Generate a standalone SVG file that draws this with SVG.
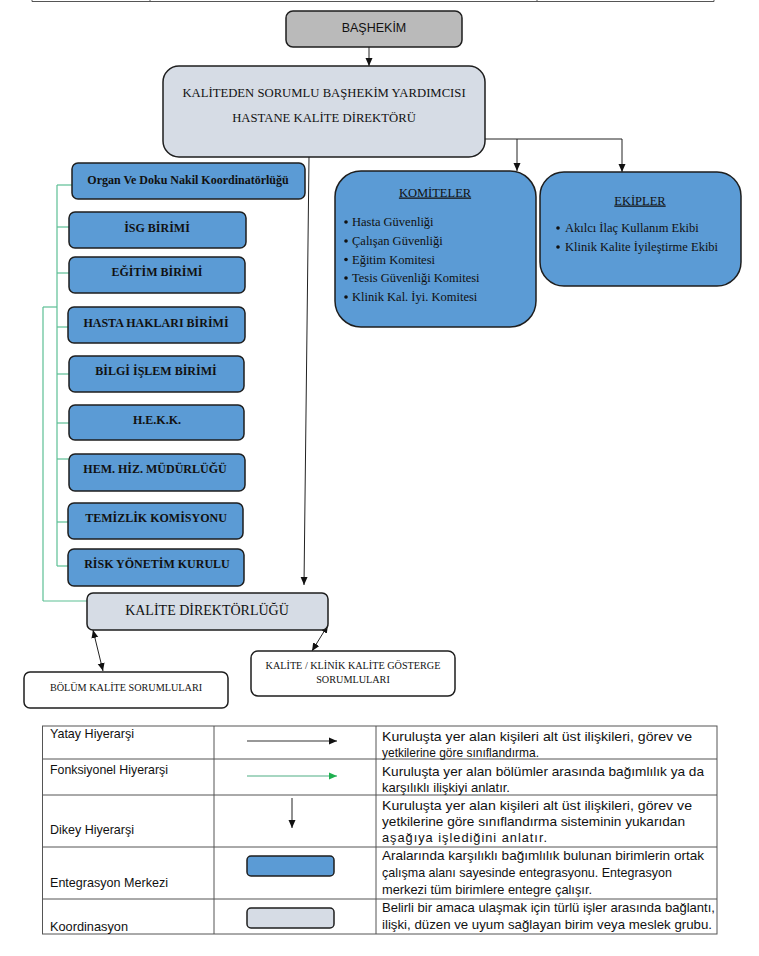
<svg xmlns="http://www.w3.org/2000/svg" width="759" height="956" viewBox="0 0 759 956">
<style>
.box{stroke:#1e1e1e;stroke-width:1.5}
.blue{fill:#5b9bd5}
.light{fill:#d6dce5}
.gray{fill:#bababa}
.white{fill:#ffffff}
.serif{font-family:"Liberation Serif","Times New Roman",serif;fill:#111}
.bold{font-weight:bold}
.c{text-anchor:middle}
.sans{font-family:"Liberation Sans",Arial,sans-serif;fill:#111}
.conn{stroke:#222;stroke-width:1;fill:none}
.green{stroke:#5cbf94;stroke-width:1.2;fill:none}
.grid{stroke:#555;stroke-width:1;fill:none}
.leg{font-family:"Liberation Sans",Arial,sans-serif;font-size:12.8px;fill:#111}
</style>
<defs>
<marker id="ah" markerUnits="userSpaceOnUse" markerWidth="8" markerHeight="8" refX="8" refY="3.5" orient="auto-start-reverse" viewBox="0 0 8 7">
<path d="M0,0 L8,3.5 L0,7 z" fill="#111"/>
</marker>
<marker id="ahg" markerUnits="userSpaceOnUse" markerWidth="8" markerHeight="8" refX="8" refY="3.5" orient="auto" viewBox="0 0 8 7">
<path d="M0,0 L8,3.5 L0,7 z" fill="#1fb04f"/>
</marker>
</defs>
<rect width="759" height="956" fill="#ffffff"/>

<g id="top-strip" class="grid">
<line x1="32" y1="1.5" x2="714" y2="1.5"/>
<line x1="32" y1="0" x2="32" y2="1.5"/>
<line x1="150" y1="0" x2="150" y2="1.5"/>
<line x1="537" y1="0" x2="537" y2="1.5"/>
<line x1="714" y1="0" x2="714" y2="1.5"/>
</g>

<g id="connectors">
<line class="conn" x1="369" y1="47" x2="369" y2="66" marker-end="url(#ah)"/>
<line class="conn" x1="485" y1="139" x2="622" y2="139"/>
<line class="conn" x1="517" y1="139" x2="517" y2="171" marker-end="url(#ah)"/>
<line class="conn" x1="622" y1="139" x2="622" y2="172" marker-end="url(#ah)"/>
<line class="conn" x1="309" y1="157" x2="304" y2="585" marker-end="url(#ah)"/>
<line class="conn" x1="93" y1="630" x2="103" y2="671" marker-start="url(#ah)" marker-end="url(#ah)"/>
<line class="conn" x1="328" y1="625" x2="312" y2="651" marker-start="url(#ah)" marker-end="url(#ah)"/>
<g class="green">
<line x1="57" y1="185" x2="57" y2="566"/>
<line x1="57" y1="185" x2="72" y2="185"/>
<line x1="57" y1="227" x2="69" y2="227"/>
<line x1="57" y1="273" x2="69" y2="273"/>
<line x1="57" y1="327" x2="68" y2="327"/>
<line x1="57" y1="374" x2="69" y2="374"/>
<line x1="57" y1="423" x2="69" y2="423"/>
<line x1="57" y1="459" x2="69" y2="459"/>
<line x1="57" y1="522" x2="68" y2="522"/>
<line x1="57" y1="566" x2="68" y2="566"/>
<line x1="43" y1="307" x2="57" y2="307"/>
<line x1="43" y1="307" x2="43" y2="601"/>
<line x1="43" y1="601" x2="87" y2="601"/>
</g>
</g>

<g id="node-bashekim">
<rect class="box gray" x="286" y="11" width="176" height="36" rx="7"/>
<text class="sans c" x="374" y="32" font-size="12.5">BAŞHEKİM</text>
</g>

<g id="node-yardimci">
<rect class="box light" x="163" y="66" width="322" height="91" rx="16"/>
<text class="serif c" x="324" y="96.5" font-size="12.7">KALİTEDEN SORUMLU BAŞHEKİM YARDIMCISI</text>
<text class="serif c" x="324" y="121.5" font-size="12.7">HASTANE KALİTE DİREKTÖRÜ</text>
</g>

<g id="node-komiteler">
<rect class="box blue" x="335" y="171" width="201" height="156" rx="26"/>
<text class="serif c" x="435" y="196.5" font-size="12.5" text-decoration="underline">KOMİTELER</text>
<g fill="#111">
<circle cx="346" cy="222" r="1.8"/>
<circle cx="346" cy="241" r="1.8"/>
<circle cx="346" cy="259.5" r="1.8"/>
<circle cx="346" cy="278" r="1.8"/>
<circle cx="346" cy="297" r="1.8"/>
</g>
<text class="serif" x="352" y="226" font-size="12.5">Hasta Güvenliği</text>
<text class="serif" x="352" y="245" font-size="12.5">Çalışan Güvenliği</text>
<text class="serif" x="352" y="263.5" font-size="12.5">Eğitim Komitesi</text>
<text class="serif" x="352" y="282" font-size="12.5">Tesis Güvenliği Komitesi</text>
<text class="serif" x="352" y="301" font-size="12.5">Klinik Kal. İyi. Komitesi</text>
</g>

<g id="node-ekipler">
<rect class="box blue" x="540" y="172" width="201" height="114" rx="24"/>
<text class="serif c" x="640" y="204.5" font-size="12.5" text-decoration="underline">EKİPLER</text>
<g fill="#111">
<circle cx="558" cy="228" r="1.8"/>
<circle cx="558" cy="247" r="1.8"/>
</g>
<text class="serif" x="565" y="232" font-size="12.5">Akılcı İlaç Kullanım Ekibi</text>
<text class="serif" x="565" y="251" font-size="12.5">Klinik Kalite İyileştirme Ekibi</text>
</g>

<g id="node-organ">
<rect class="box blue" x="72" y="163" width="233" height="36" rx="6"/>
<text class="serif bold c" x="188" y="184" font-size="12">Organ Ve Doku Nakil Koordinatörlüğü</text>
</g>
<g id="node-isg">
<rect class="box blue" x="69" y="212" width="177" height="36" rx="6"/>
<text class="serif bold c" x="157" y="232" font-size="12">İSG BİRİMİ</text>
</g>
<g id="node-egitim">
<rect class="box blue" x="69" y="257" width="176" height="36" rx="6"/>
<text class="serif bold c" x="157" y="276" font-size="12">EĞİTİM BİRİMİ</text>
</g>
<g id="node-hasta-haklari">
<rect class="box blue" x="68" y="307" width="177" height="36" rx="6"/>
<text class="serif bold c" x="156" y="327" font-size="12">HASTA HAKLARI BİRİMİ</text>
</g>
<g id="node-bilgi-islem">
<rect class="box blue" x="69" y="356" width="175" height="36" rx="6"/>
<text class="serif bold c" x="156" y="375" font-size="12">BİLGİ İŞLEM BİRİMİ</text>
</g>
<g id="node-hekk">
<rect class="box blue" x="69" y="405" width="175" height="35" rx="6"/>
<text class="serif bold c" x="157" y="424" font-size="12">H.E.K.K.</text>
</g>
<g id="node-hem">
<rect class="box blue" x="69" y="454" width="176" height="37" rx="6"/>
<text class="serif bold c" x="155" y="473" font-size="12">HEM. HİZ. MÜDÜRLÜĞÜ</text>
</g>
<g id="node-temizlik">
<rect class="box blue" x="68" y="503" width="175" height="36" rx="6"/>
<text class="serif bold c" x="156" y="522" font-size="12">TEMİZLİK KOMİSYONU</text>
</g>
<g id="node-risk">
<rect class="box blue" x="68" y="549" width="176" height="37" rx="6"/>
<text class="serif bold c" x="157" y="568" font-size="12">RİSK YÖNETİM KURULU</text>
</g>

<g id="node-kalite-direktorlugu">
<rect class="box light" x="87" y="593" width="241" height="37" rx="6"/>
<text class="serif c" x="207" y="615" font-size="14">KALİTE DİREKTÖRLÜĞÜ</text>
</g>
<g id="node-bolum">
<rect class="box white" x="24" y="672" width="204" height="36" rx="6"/>
<text class="serif c" x="126" y="691" font-size="10.2">BÖLÜM KALİTE SORUMLULARI</text>
</g>
<g id="node-gosterge">
<rect class="box white" x="251" y="651" width="204" height="45" rx="7"/>
<text class="serif c" x="353" y="669" font-size="10.2">KALİTE / KLİNİK KALİTE GÖSTERGE</text>
<text class="serif c" x="353" y="683" font-size="10.2">SORUMLULARI</text>
</g>

<g id="legend">
<rect class="grid" x="42.5" y="726" width="674.5" height="208"/>
<line class="grid" x1="42.5" y1="759" x2="717" y2="759"/>
<line class="grid" x1="42.5" y1="795" x2="717" y2="795"/>
<line class="grid" x1="42.5" y1="847" x2="717" y2="847"/>
<line class="grid" x1="42.5" y1="899" x2="717" y2="899"/>
<line class="grid" x1="214" y1="726" x2="214" y2="934"/>
<line class="grid" x1="376" y1="726" x2="376" y2="934"/>
<text class="leg" x="50" y="738" textLength="84" lengthAdjust="spacingAndGlyphs">Yatay Hiyerarşi</text>
<text class="leg" x="50" y="774" textLength="118" lengthAdjust="spacingAndGlyphs">Fonksiyonel Hiyerarşi</text>
<text class="leg" x="50" y="834" textLength="84" lengthAdjust="spacingAndGlyphs">Dikey Hiyerarşi</text>
<text class="leg" x="50" y="887" textLength="118" lengthAdjust="spacingAndGlyphs">Entegrasyon Merkezi</text>
<text class="leg" x="50" y="931" textLength="78" lengthAdjust="spacingAndGlyphs">Koordinasyon</text>
<line x1="247" y1="741" x2="337" y2="741" stroke="#333" stroke-width="1.2" marker-end="url(#ah)"/>
<line x1="247" y1="776" x2="337" y2="776" stroke="#4fae83" stroke-width="1.2" marker-end="url(#ahg)"/>
<line x1="292" y1="798" x2="292" y2="828" stroke="#222" stroke-width="1" marker-end="url(#ah)"/>
<rect class="box blue" x="247" y="856" width="87" height="20" rx="4"/>
<rect class="box light" x="247" y="908" width="87" height="20" rx="4"/>
<text class="leg" x="382" y="741" textLength="310" lengthAdjust="spacingAndGlyphs">Kuruluşta yer alan kişileri alt üst ilişkileri, görev ve</text>
<text class="leg" x="382" y="757" textLength="157" lengthAdjust="spacingAndGlyphs">yetkilerine göre sınıflandırma.</text>
<text class="leg" x="382" y="776" textLength="322" lengthAdjust="spacingAndGlyphs">Kuruluşta yer alan bölümler arasında bağımlılık ya da</text>
<text class="leg" x="382" y="792" textLength="128" lengthAdjust="spacingAndGlyphs">karşılıklı ilişkiyi anlatır.</text>
<text class="leg" x="382" y="810" textLength="310" lengthAdjust="spacingAndGlyphs">Kuruluşta yer alan kişileri alt üst ilişkileri, görev ve</text>
<text class="leg" x="382" y="826" textLength="303" lengthAdjust="spacingAndGlyphs">yetkilerine göre sınıflandırma sisteminin yukarıdan</text>
<text class="leg" x="382" y="842" textLength="165" lengthAdjust="spacing">aşağıya işlediğini anlatır.</text>
<text class="leg" x="382" y="860" textLength="322" lengthAdjust="spacingAndGlyphs">Aralarında karşılıklı bağımlılık bulunan birimlerin ortak</text>
<text class="leg" x="382" y="877" textLength="290" lengthAdjust="spacingAndGlyphs">çalışma alanı sayesinde entegrasyonu. Entegrasyon</text>
<text class="leg" x="382" y="894" textLength="210" lengthAdjust="spacingAndGlyphs">merkezi tüm birimlere entegre çalışır.</text>
<text class="leg" x="382" y="912" textLength="333" lengthAdjust="spacingAndGlyphs">Belirli bir amaca ulaşmak için türlü işler arasında bağlantı,</text>
<text class="leg" x="382" y="929" textLength="330" lengthAdjust="spacingAndGlyphs">ilişki, düzen ve uyum sağlayan birim veya meslek grubu.</text>
</g>
</svg>
